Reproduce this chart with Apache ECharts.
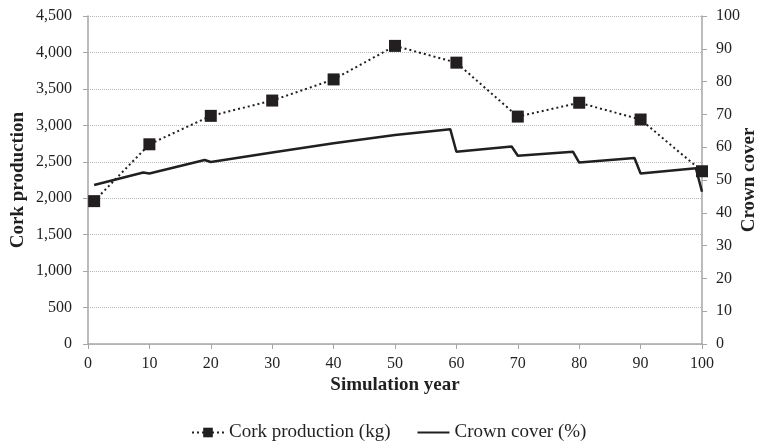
<!DOCTYPE html>
<html>
<head>
<meta charset="utf-8">
<script src="https://cdn.jsdelivr.net/npm/echarts@6/dist/echarts.min.js"></script>
<style>
html,body{margin:0;padding:0;background:#fff;}
#c{width:765px;height:443px;}
</style>
</head>
<body>
<div id="c"></div>
<script>
var corkYears = [1, 10, 20, 30, 40, 50, 60, 70, 80, 90, 100];
var corkValues = [1960, 2740, 3130, 3340, 3630, 4090, 3860, 3120, 3310, 3080, 2370];
var crownYears = [1, 9, 10, 19, 20, 30, 40, 50, 59, 60, 69, 70, 79, 80, 89, 90, 99, 100];
var crownValues = [48.5, 52.3, 52.0, 56.1, 55.5, 58.4, 61.2, 63.7, 65.5, 58.6, 60.2, 57.4, 58.6, 55.3, 56.7, 52.0, 53.6, 46.4];
var leftTicks = {min: 0, max: 4500, interval: 500};
var rightTicks = {min: 0, max: 100, interval: 10};
var xTicks = {min: 0, max: 100, interval: 10};

var cork = corkYears.map(function (y, i) { return [y, corkValues[i]]; });
var crown = crownYears.map(function (y, i) { return [y, crownValues[i]]; });

var FONT = 'Liberation Serif';
var INK = '#231f20';
var AXIS = '#a6a6a6';

var chart = echarts.init(document.getElementById('c'), null, {renderer: 'canvas'});
chart.setOption({
  backgroundColor: '#fff',
  animation: false,
  textStyle: {fontFamily: FONT, color: INK},
  grid: {left: 88, right: 63, top: 16, bottom: 99, containLabel: false, outerBoundsMode: 'none'},
  legend: {
    left: 186,
    top: 418,
    itemWidth: 32,
    itemHeight: 12,
    itemGap: 26,
    textStyle: {fontFamily: FONT, fontSize: 19, color: INK},
    data: [
      {name: 'Cork production (kg)'},
      {name: 'Crown cover (%)', itemStyle: {color: 'rgba(0,0,0,0)', borderWidth: 0}}
    ]
  },
  xAxis: {
    type: 'value',
    min: xTicks.min, max: xTicks.max, interval: xTicks.interval,
    name: 'Simulation year',
    nameLocation: 'middle',
    nameGap: 32,
    nameMoveOverlap: false,
    nameTextStyle: {fontFamily: FONT, fontSize: 19, fontWeight: 'bold', color: INK},
    axisLine: {show: true, lineStyle: {color: AXIS, width: 1.5}},
    axisTick: {show: true, length: 5, lineStyle: {color: AXIS}},
    axisLabel: {fontFamily: FONT, fontSize: 16, color: INK, margin: 12},
    splitLine: {show: false}
  },
  yAxis: [{
    type: 'value',
    min: leftTicks.min, max: leftTicks.max, interval: leftTicks.interval,
    name: 'Cork production',
    nameLocation: 'middle',
    nameGap: 60,
    nameMoveOverlap: false,
    nameTextStyle: {fontFamily: FONT, fontSize: 19, fontWeight: 'bold', color: INK},
    axisLine: {show: true, lineStyle: {color: AXIS, width: 1.5}},
    axisTick: {show: true, length: 5, lineStyle: {color: AXIS}},
    axisLabel: {
      fontFamily: FONT, fontSize: 16, color: INK, margin: 16,
      formatter: function (v) { return v.toLocaleString('en-US'); }
    },
    splitLine: {show: true, lineStyle: {color: '#b8b8b8', type: 'dotted', width: 1}}
  }, {
    type: 'value',
    position: 'right',
    min: rightTicks.min, max: rightTicks.max, interval: rightTicks.interval,
    name: 'Crown cover',
    nameLocation: 'middle',
    nameGap: 38,
    nameMoveOverlap: false,
    nameTextStyle: {fontFamily: FONT, fontSize: 19, fontWeight: 'bold', color: INK},
    axisLine: {show: true, lineStyle: {color: AXIS, width: 1.5}},
    axisTick: {show: true, length: 5, lineStyle: {color: AXIS}},
    axisLabel: {fontFamily: FONT, fontSize: 16, color: INK, margin: 14},
    splitLine: {show: false}
  }],
  series: [{
    name: 'Cork production (kg)',
    type: 'line',
    yAxisIndex: 0,
    data: cork,
    symbol: 'rect',
    symbolSize: 12,
    itemStyle: {color: INK},
    lineStyle: {color: INK, width: 2, type: [2, 3]},
    z: 3
  }, {
    name: 'Crown cover (%)',
    type: 'line',
    yAxisIndex: 1,
    data: crown,
    symbol: 'none',
    lineStyle: {color: INK, width: 2.5},
    itemStyle: {color: INK},
    z: 2
  }]
});
</script>
</body>
</html>
